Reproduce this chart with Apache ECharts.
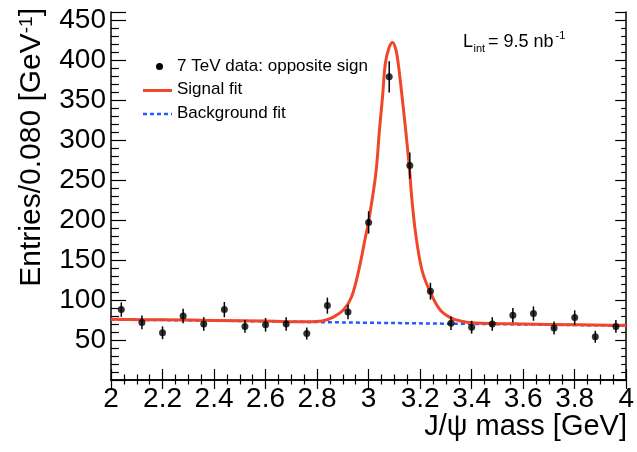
<!DOCTYPE html>
<html>
<head>
<meta charset="utf-8">
<script src="https://cdn.jsdelivr.net/npm/echarts@6/dist/echarts.min.js"></script>
<style>
  html, body { margin: 0; padding: 0; background: #fff; }
  #chart { width: 637px; height: 452px; }
</style>
</head>
<body>
<div id="chart"></div>
<script>
// Dimuon invariant mass spectrum around the J/psi, 0.080 GeV bins
const binCenters = [2.04, 2.12, 2.20, 2.28, 2.36, 2.44, 2.52, 2.60, 2.68, 2.76, 2.84, 2.92, 3.00,
                    3.08, 3.16, 3.24, 3.32, 3.40, 3.48, 3.56, 3.64, 3.72, 3.80, 3.88, 3.96];
const counts     = [88, 72, 59, 80, 70, 88, 67, 69, 70, 58, 93, 85, 197,
                    379, 268, 111, 71, 66, 70, 81, 83, 65, 78, 54, 67];
const countErrs  = [9, 8.5, 8, 9, 8.5, 9.5, 8, 8.5, 8.5, 7.5, 10, 9, 14,
                    19.5, 16.5, 10.5, 8.5, 8, 8.5, 9, 9, 8, 9, 7.5, 8];

// Signal + background fit curve
const signalMass = [2.00, 2.20, 2.40, 2.60, 2.76, 2.82, 2.865, 2.904, 2.934, 2.962, 2.988, 3.000,
                    3.028, 3.042, 3.054, 3.065, 3.080, 3.093, 3.105, 3.114, 3.130, 3.144, 3.158,
                    3.168, 3.183, 3.207, 3.239, 3.278, 3.323, 3.360, 3.400, 3.500, 3.700, 4.000];
const signalFit  = [75.8, 75.2, 74.5, 73.6, 72.8, 73.8, 79, 88, 104, 137.5, 179, 198,
                    258, 312, 354, 396, 416, 422, 414, 398, 354, 312, 266,
                    226, 182, 137.5, 110, 87.5, 77, 73.5, 71.5, 70.5, 69.5, 68];

// Background-only fit
const bkgMass = [2.0, 2.4, 2.8, 3.2, 3.6, 4.0];
const bkgFit  = [75.6, 74.2, 72.4, 70.8, 69.4, 68.0];

const xTicks = ['2', '2.2', '2.4', '2.6', '2.8', '3', '3.2', '3.4', '3.6', '3.8', '4'];

const FONT = "'Liberation Sans', Arial, Helvetica, sans-serif";
const RED = '#f0462a';
const BLUE = '#1f5cff';

const zip = (xs, ys) => xs.map((x, i) => [x, ys[i]]);

const chart = echarts.init(document.getElementById('chart'), null, { renderer: 'canvas' });

const frameAxis = {
  axisLine: { show: true, lineStyle: { color: '#000', width: 1.5 } },
  splitLine: { show: false }
};

const option = {
  animation: false,
  backgroundColor: '#fff',
  grid: { left: 111, right: 9, top: 12, bottom: 72 },
  xAxis: [
    Object.assign({
      type: 'value', min: 2, max: 4, interval: 0.2, position: 'bottom',
      axisTick: { show: true, inside: true, length: 11, lineStyle: { color: '#000', width: 1.2 } },
      minorTick: { show: true, splitNumber: 4, length: 5.5, lineStyle: { color: '#000', width: 1.2 } },
      axisLabel: {
        color: '#000', fontFamily: FONT, fontSize: 28, margin: 5,
        formatter: v => xTicks[Math.round((v - 2) / 0.2)] ?? ''
      }
    }, frameAxis),
    Object.assign({
      type: 'value', min: 2, max: 4, interval: 0.2, position: 'top',
      axisTick: { show: true, inside: true, length: 9, lineStyle: { color: '#000', width: 1.2 } },
      minorTick: { show: true, splitNumber: 4, length: 4.5, lineStyle: { color: '#000', width: 1.2 } },
      axisLabel: { show: false }
    }, frameAxis)
  ],
  yAxis: [
    Object.assign({
      type: 'value', min: 0, max: 460, interval: 50, position: 'left',
      axisTick: { show: true, inside: true, length: 15, lineStyle: { color: '#000', width: 1.2 } },
      minorTick: { show: true, splitNumber: 5, length: 8, lineStyle: { color: '#000', width: 1.2 } },
      axisLabel: {
        color: '#000', fontFamily: FONT, fontSize: 28, margin: 5,
        formatter: v => (v === 0 || v % 50 !== 0) ? '' : String(v)
      }
    }, frameAxis),
    Object.assign({
      type: 'value', min: 0, max: 460, interval: 50, position: 'right',
      axisTick: { show: true, inside: true, length: 11, lineStyle: { color: '#000', width: 1.2 } },
      minorTick: { show: true, splitNumber: 5, length: 5, lineStyle: { color: '#000', width: 1.2 } },
      axisLabel: { show: false }
    }, frameAxis)
  ],
  series: [
    {
      name: 'Background fit', type: 'line', data: zip(bkgMass, bkgFit),
      showSymbol: false, smooth: 0.3, z: 2,
      lineStyle: { color: BLUE, width: 2.5, type: [4, 3] }
    },
    {
      name: 'Signal fit', type: 'line', data: zip(signalMass, signalFit),
      showSymbol: false, smooth: 0.35, z: 3,
      lineStyle: { color: RED, width: 3 }
    },
    {
      name: 'errors', type: 'custom', z: 4,
      data: binCenters.map((x, i) => [x, counts[i] - countErrs[i], counts[i] + countErrs[i]]),
      renderItem: (params, api) => {
        const lo = api.coord([api.value(0), api.value(1)]);
        const hi = api.coord([api.value(0), api.value(2)]);
        return {
          type: 'line',
          shape: { x1: lo[0], y1: lo[1], x2: hi[0], y2: hi[1] },
          style: { stroke: '#000', lineWidth: 1.5 }
        };
      }
    },
    {
      name: '7 TeV data: opposite sign', type: 'scatter', z: 5,
      data: zip(binCenters, counts),
      symbol: 'circle', symbolSize: 7,
      itemStyle: { color: '#000' }
    }
  ],
  graphic: [
    // legend
    { type: 'circle', shape: { cx: 159.5, cy: 66.5, r: 3.5 }, style: { fill: '#000' } },
    { type: 'text', x: 177, y: 66, style: { text: '7 TeV data: opposite sign', font: `17px ${FONT}`, fill: '#000', verticalAlign: 'middle' } },
    { type: 'line', shape: { x1: 143, y1: 90.5, x2: 172, y2: 90.5 }, style: { stroke: RED, lineWidth: 3 } },
    { type: 'text', x: 177, y: 89.5, style: { text: 'Signal fit', font: `17px ${FONT}`, fill: '#000', verticalAlign: 'middle' } },
    { type: 'line', shape: { x1: 143, y1: 114, x2: 172, y2: 114 }, style: { stroke: BLUE, lineWidth: 2.5, lineDash: [4, 3] } },
    { type: 'text', x: 177, y: 113, style: { text: 'Background fit', font: `17px ${FONT}`, fill: '#000', verticalAlign: 'middle' } },
    // integrated luminosity
    { type: 'text', x: 463, y: 42.5, style: { text: 'L', font: `18px ${FONT}`, fill: '#000', verticalAlign: 'middle' } },
    { type: 'text', x: 473.5, y: 48.5, style: { text: 'int', font: `11px ${FONT}`, fill: '#000', verticalAlign: 'middle' } },
    { type: 'text', x: 488, y: 42.5, style: { text: '= 9.5 nb', font: `18px ${FONT}`, fill: '#000', verticalAlign: 'middle' } },
    { type: 'text', x: 555.5, y: 36, style: { text: '-1', font: `11px ${FONT}`, fill: '#000', verticalAlign: 'middle' } },
    // axis titles
    {
      type: 'text', x: 32, y: 8, rotation: Math.PI / 2,
      style: {
        text: '{a|Entries/0.080 [GeV}{s|-1}{a|]}',
        align: 'right', verticalAlign: 'middle',
        rich: {
          a: { fontFamily: FONT, fontSize: 30, fill: '#000', color: '#000' },
          s: { fontFamily: FONT, fontSize: 19, fill: '#000', color: '#000', verticalAlign: 'top' }
        }
      }
    },
    {
      type: 'text', x: 627, y: 426.5,
      style: { text: 'J/\u03c8 mass [GeV]', font: `29px ${FONT}`, fill: '#000', align: 'right', verticalAlign: 'middle' }
    }
  ]
};

chart.setOption(option);
</script>
</body>
</html>
